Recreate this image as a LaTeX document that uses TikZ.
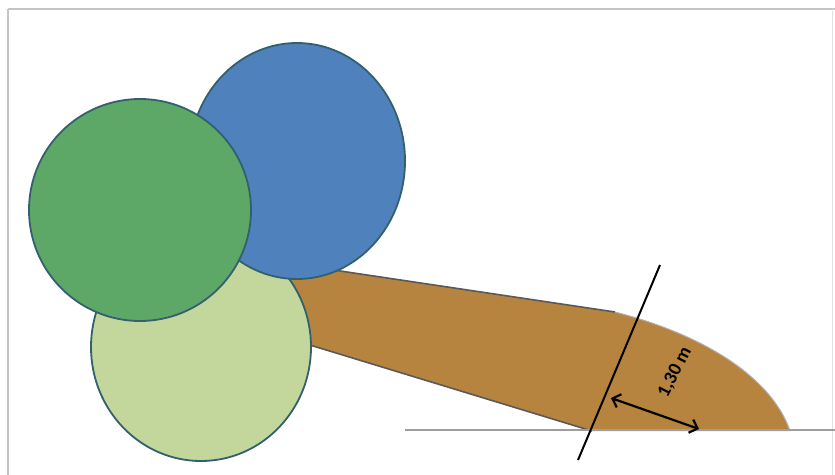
\documentclass[tikz,border=0pt]{standalone}
\usepackage{fontspec}
\setmainfont{Carlito}
\usetikzlibrary{arrows.meta}

\definecolor{crownblue}{HTML}{4F81BD}
\definecolor{crowngreen}{HTML}{5DA866}
\definecolor{crownlight}{HTML}{C3D69B}
\definecolor{trunkbrown}{HTML}{B6843F}
\definecolor{rimcol}{HTML}{33606E}
\definecolor{framegray}{HTML}{C4C4C4}

\begin{document}
\begin{tikzpicture}[x=1pt, y=-1pt]
\useasboundingbox (0,0) rectangle (835,474);
\draw[framegray, line width=2pt] (8,9) -- (8,480);
\draw[framegray, line width=2pt] (8,9) -- (840,9);
\draw[framegray!50, line width=1pt] (832,9) -- (832,480);
% trunk
\fill[trunkbrown] (280,262) -- (615,312) .. controls (705,335) and (772,378) .. (790,431)
  -- (592,431) -- (300,342) -- cycle;
\draw[black!65, line width=1.6pt] (280,262) -- (615,312);
\draw[black!65, line width=1.6pt] (300,342) -- (592,431);
\draw[black!30, line width=1pt] (615,312) .. controls (705,335) and (772,378) .. (790,431);
% ground
\draw[black!38, line width=1.8pt] (405,430) -- (835,430);
% crowns
\draw[rimcol, line width=1.8pt, fill=crownlight] (201,347) ellipse (110 and 114);
\draw[rimcol, line width=1.8pt, fill=crownblue] (297,161) ellipse (108 and 118);
\draw[rimcol, line width=1.8pt, fill=crowngreen] (140,210) ellipse (111 and 111);
% measure
\coordinate (cuttop) at (660,265);
\coordinate (cutbot) at (578,460);
\coordinate (armA) at (611,398);
\coordinate (armB) at (699,429);
\draw[black, line width=2pt] (cuttop) -- (cutbot);
\draw[black, line width=2.2pt, {Straight Barb[length=7pt,width=14pt]}-{Straight Barb[length=7pt,width=14pt]}] (armA) -- (armB);
\node[font=\bfseries\fontsize{19}{19}\selectfont, rotate=63] (lenlabel) at (675,372) {1,30 m};
\end{tikzpicture}
\end{document}
